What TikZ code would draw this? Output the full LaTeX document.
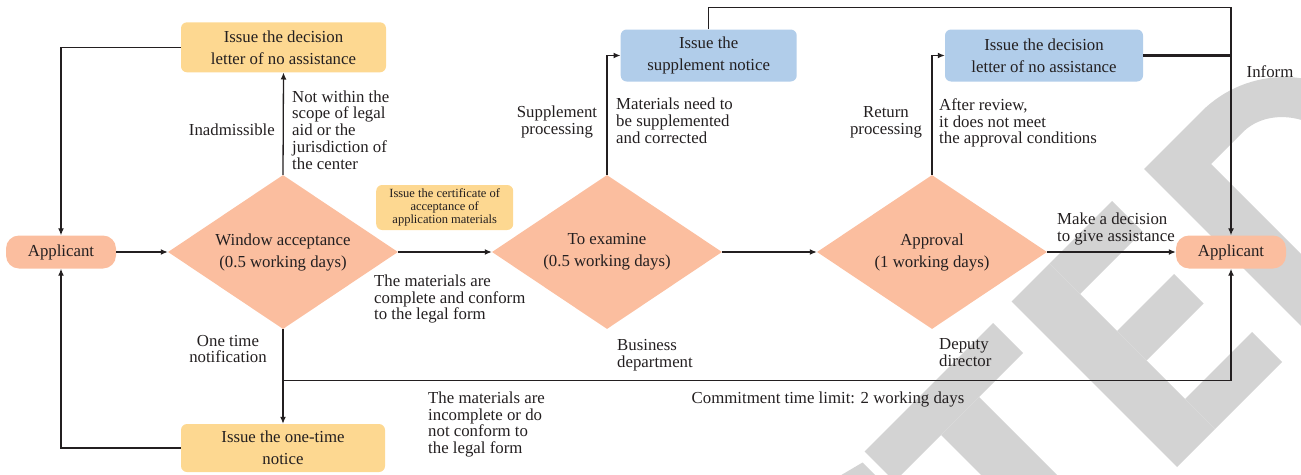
\documentclass[tikz,border=0pt]{standalone}
\usepackage{fontspec}
\setmainfont{Liberation Serif}
\usetikzlibrary{shapes.geometric,arrows.meta}
\definecolor{yel}{HTML}{FDD891}
\definecolor{pch}{HTML}{FBBE9F}
\definecolor{blu}{HTML}{B1CDEA}
\definecolor{wm}{HTML}{D3D3D3}
\definecolor{ink}{HTML}{231F20}
\begin{document}
\begin{tikzpicture}[x=1pt,y=-1pt,
  every node/.style={text=ink, inner sep=0pt},
  lbl/.style={align=left, font=\fontsize{16.8}{16.8}\selectfont},
  clbl/.style={align=center, font=\fontsize{16.8}{16.8}\selectfont},
  ybox/.style={fill=yel, rounded corners=6pt, align=center, font=\fontsize{16.8}{22}\selectfont},
  bbox/.style={fill=blu, rounded corners=6pt, align=center, font=\fontsize{16.8}{22}\selectfont},
  app/.style={fill=pch, rounded corners=13pt, minimum width=110pt, minimum height=33pt, font=\fontsize{16.8}{22}\selectfont},
  dia/.style={diamond, fill=pch, aspect=1.49, minimum width=230pt, minimum height=154pt, align=center, font=\fontsize{16.8}{22}\selectfont},
  conn/.style={draw=ink, line width=1.3pt},
  arr/.style={conn, -{Latex[length=7pt,width=6pt]}}]
\useasboundingbox (0,0) rectangle (1301,474);
% watermark
\begin{scope}
\clip (0,0) rectangle (1301,474);
\begin{scope}[x={(0.5pt,0.5pt)}, y={(0.5pt,-0.5pt)}]
\fill[wm] (365,1316) -- (400,1325) -- (400,1372) -- (362,1368) -- cycle;
\fill[wm] (413,1316) -- (670,1316) -- (670,1376) -- (413,1376) -- cycle;
\fill[wm] (506,1376) -- (582,1376) -- (582,1644) -- (506,1644) -- cycle;
\fill[wm] (710,1313) -- (786,1313) -- (786,1644) -- (710,1644) -- cycle;
\fill[wm] (786,1313) -- (911,1313) -- (911,1374) -- (786,1374) -- cycle;
\fill[wm] (786,1448) -- (900,1448) -- (900,1507) -- (786,1507) -- cycle;
\fill[wm] (786,1584) -- (920,1584) -- (920,1644) -- (786,1644) -- cycle;
\fill[wm, even odd rule] (975,1313) -- (1090,1313) arc[start angle=-90,end angle=90,x radius=166,y radius=165.5] -- (975,1644) -- cycle
  (1047,1375) -- (1110,1375) arc[start angle=-90,end angle=90,x radius=86,y radius=104.5] -- (1047,1584) -- cycle;
\end{scope}
\end{scope}
% nodes
\node[ybox, minimum width=205pt, minimum height=50pt] (dec1) at (283.5,47.3) {Issue the decision\\letter of no assistance};
\node[app] (appL) at (61,252) {Applicant};
\node[dia] (win) at (283,252) {Window acceptance\\(0.5 working days)};
\node[ybox, minimum width=204pt, minimum height=48pt] (one) at (283,448) {Issue the one-time\\notice};
\node[ybox, font=\fontsize{12.5}{13}\selectfont, minimum width=137pt, minimum height=45pt] (cert) at (444.7,207.5) {Issue the certificate of\\acceptance of\\application materials};
\node[dia] (exa) at (607,252) {To examine\\(0.5 working days)};
\node[bbox, minimum width=176pt, minimum height=52pt] (sup) at (708.7,55.5) {Issue the\\supplement notice};
\node[dia] (apr) at (932,252) {Approval\\(1 working days)};
\node[bbox, minimum width=198pt, minimum height=52pt] (dec2) at (1044,55.5) {Issue the decision\\letter of no assistance};
\node[app] (appR) at (1231,252) {Applicant};
\coordinate (tr) at (1231,7.3);
\coordinate (bl) at (283,380.7);
% connectors
\draw[arr] (appL.east) -- (win.west);
\draw[arr] (win.north) -- (dec1.south);
\draw[arr] (dec1.west) -| (appL.north);
\draw[arr] (win.south) -- (one.north);
\draw[arr] (one.west) -| (appL.south);
\draw[arr] (win.east) -- (exa.west);
\draw[arr] (exa.north) |- (sup.west);
\draw[arr] (sup.north) |- (tr) -- (appR.north);
\draw[arr] (exa.east) -- (apr.west);
\draw[arr] (apr.north) |- (dec2.west);
\draw[conn, line width=2.6pt] (dec2.east) -- (dec2.east -| tr);
\draw[arr] (apr.east) -- (appR.west);
\draw[arr] (bl) -| (appR.south);
% labels
\node[lbl, anchor=east] (l1) at (275,130) {Inadmissible};
\node[lbl, anchor=west] (l2) at (292,130) {Not within the\\scope of legal\\aid or the\\jurisdiction of\\the center};
\node[lbl, anchor=west] (l3) at (374,299) {The materials are\\complete and conform\\to the legal form};
\node[clbl] (l4) at (228,349) {One time\\notification};
\node[lbl, anchor=west] (l5) at (428,424.5) {The materials are\\incomplete or do\\not conform to\\the legal form};
\node[clbl] (l6) at (557,122) {Supplement\\processing};
\node[lbl, anchor=west] (l7) at (616,120.5) {Materials need to\\be supplemented\\and corrected};
\node[lbl, anchor=west] (l8) at (617,355) {Business\\department};
\node[clbl] (l9) at (828,399) {Commitment time limit: 2 working days};
\node[clbl] (l10) at (886,122) {Return\\processing};
\node[lbl, anchor=west] (l11) at (939,123) {After review,\\it does not meet\\the approval conditions};
\node[lbl, anchor=west] (l12) at (939,352.5) {Deputy\\director};
\node[lbl, anchor=west] (l13) at (1057,229) {Make a decision\\to give assistance};
\node[clbl] (l14) at (1270,72) {Inform};
\end{tikzpicture}
\end{document}
